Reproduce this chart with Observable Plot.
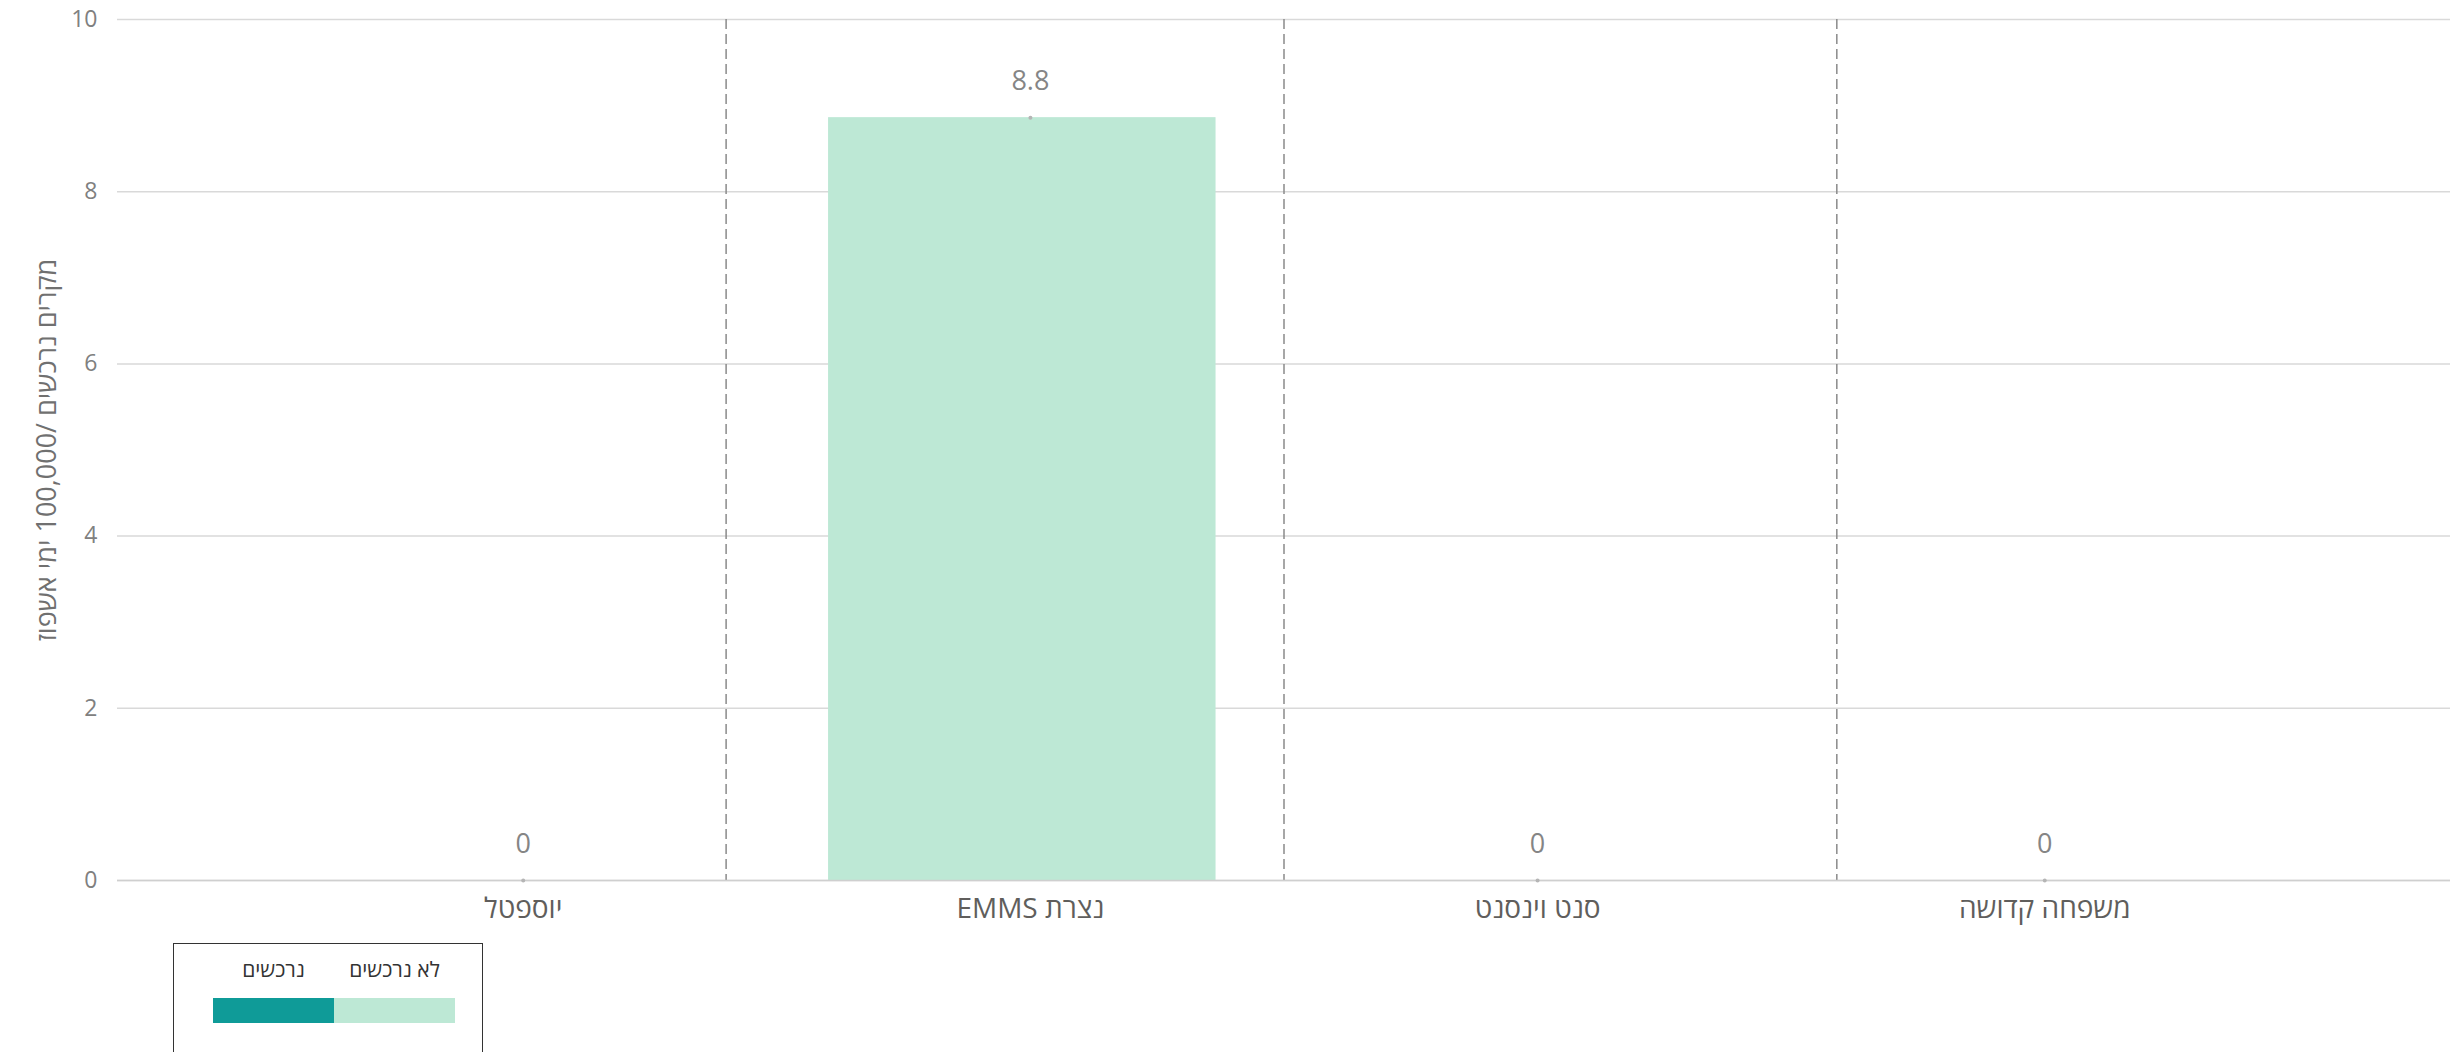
<!DOCTYPE html>
<html>
<head>
<meta charset="utf-8">
<script src="https://cdn.jsdelivr.net/npm/d3@7"></script>
<script src="https://cdn.jsdelivr.net/npm/@observablehq/plot@0.6"></script>
<style>
  html, body { margin: 0; padding: 0; background: #fff; overflow: hidden; }
  #wrap { position: relative; width: 2458px; height: 1052px; }
  g[aria-label="x-axis tick label"] text { direction: rtl; }
  #legend {
    position: absolute; left: 173px; top: 943px; width: 310px; height: 140px;
    border: 1.5px solid #333; box-sizing: border-box;
    font-family: 'Open Sans', 'Liberation Sans', 'DejaVu Sans', sans-serif;
  }
  #legend .items { position: absolute; left: 39px; top: 12px; width: 242px; display: flex; direction: rtl; }
  #legend .item { width: 121px; display: flex; flex-direction: column; align-items: center; }
  #legend .lab { font-size: 21px; line-height: 26px; color: #333; direction: rtl; }
  #legend .sw { width: 121px; height: 25px; margin-top: 16px; }
</style>
</head>
<body>
<div id="wrap"></div>
<script>
// ---- data ----
const categories = ["יוספטל", "נצרת EMMS", "סנט וינסנט", "משפחה קדושה"];
const seriesNames = ["לא נרכשים", "נרכשים"];
const notAcquired = [0, 8.86, 0, 0];
const acquired = [0, 0, 0, 0];
const yTicks = [0, 2, 4, 6, 8, 10];
const separators = [0.4, 1.5, 2.59];
const seriesColors = ["#bde8d5", "#0f9b98"];
const yTitle = "מקרים נרכשים /100,000 ימי אשפוז";

const rows = categories.map((c, i) => ({
  i, cat: c,
  acq: acquired[i],
  notAcq: notAcquired[i],
  total: acquired[i] + notAcquired[i]
}));
const fmt = v => String(Math.trunc(v * 10) / 10);
const font = "'Open Sans', 'Liberation Sans', 'DejaVu Sans', sans-serif";
const rtl = s => "\u2067" + s + "\u2069";

const chart = Plot.plot({
  width: 2458,
  height: 940,
  marginLeft: 117,
  marginRight: 8,
  marginTop: 19,
  marginBottom: 60,
  style: { fontFamily: font, background: "#fff" },
  x: { type: "linear", domain: [-0.8, 3.8] },
  y: { domain: [0, 10] },
  marks: [
    Plot.gridY(yTicks, { stroke: "#d9d9d9", strokeOpacity: 1, strokeWidth: 1.5 }),
    Plot.ruleX(separators, { stroke: "#8a8a8a", strokeWidth: 1.5, strokeDasharray: "10,5" }),
    Plot.rectY(rows, { x1: d => d.i - 0.398, x2: d => d.i + 0.366, y1: 0, y2: "acq", fill: seriesColors[1] }),
    Plot.rectY(rows, { x1: d => d.i - 0.398, x2: d => d.i + 0.366, y1: "acq", y2: "total", fill: seriesColors[0] }),
    Plot.ruleY([0], { stroke: "#cfcfcf", strokeWidth: 1.5 }),
    Plot.dot(rows, { x: "i", y: "total", r: 2, fill: "#b5b5b5" }),
    Plot.text(rows, { x: "i", y: "total", text: d => fmt(d.total), dy: -36, fill: "#858585", fontSize: 27 }),
    Plot.axisY(yTicks, {
      tickSize: 0, tickPadding: 20, fontSize: 23, color: "#808080",
      tickFormat: d => String(d), label: null
    }),
    Plot.axisY([], {
      tickSize: 0, fontSize: 27, color: "#707070",
      label: yTitle, labelAnchor: "center", labelArrow: "none", labelOffset: 81
    }),
    Plot.axisX(d3.range(categories.length), {
      tickFormat: i => rtl(categories[i]), tickSize: 0, tickPadding: 18,
      fontSize: 28, color: "#605e5c", label: null
    })
  ]
});
document.getElementById("wrap").appendChild(chart);

// ---- legend (HTML, below the SVG) ----
const legend = document.createElement("div");
legend.id = "legend";
const items = document.createElement("div");
items.className = "items";
seriesNames.forEach((name, k) => {
  const it = document.createElement("div");
  it.className = "item";
  const lab = document.createElement("div");
  lab.className = "lab";
  lab.textContent = name;
  const sw = document.createElement("div");
  sw.className = "sw";
  sw.style.background = seriesColors[k];
  it.appendChild(lab);
  it.appendChild(sw);
  items.appendChild(it);
});
legend.appendChild(items);
document.getElementById("wrap").appendChild(legend);
</script>
</body>
</html>
